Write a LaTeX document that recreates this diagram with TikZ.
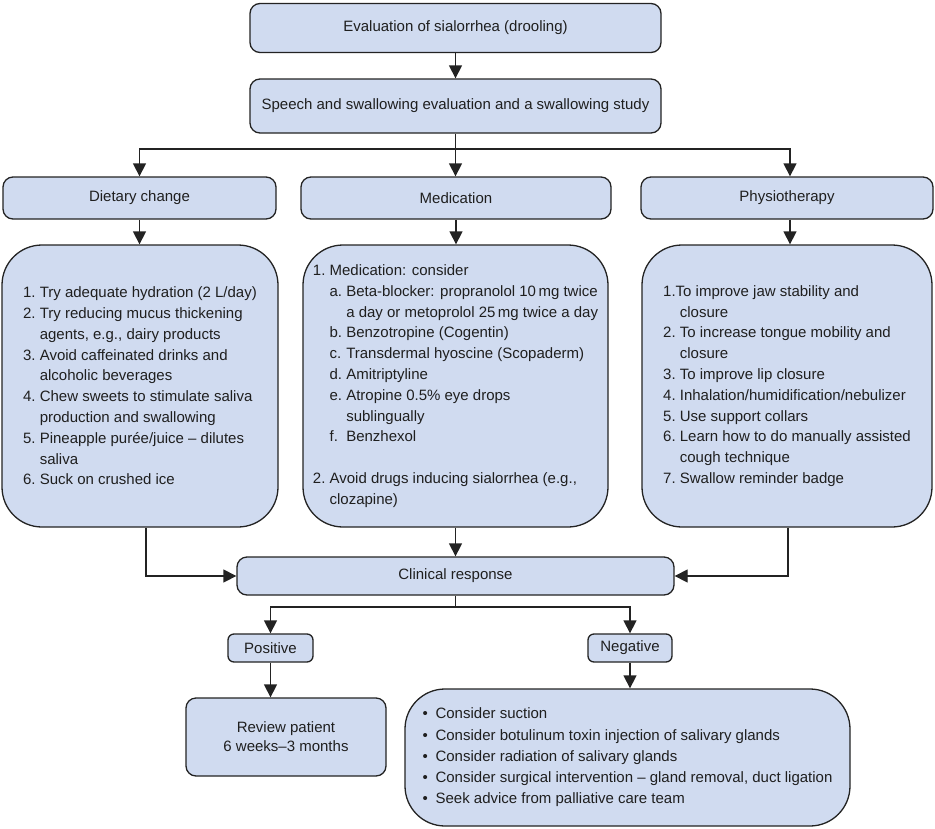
\documentclass[tikz,border=0pt]{standalone}
\usepackage{fontspec}
\setmainfont{Liberation Sans}
\usetikzlibrary{arrows.meta}
\definecolor{boxfill}{RGB}{208,219,240}
\definecolor{linec}{RGB}{35,35,35}
\newcommand{\nm}[1]{\makebox[1.11em][l]{#1}}
\newcommand{\bl}{\makebox[0.87em][l]{\textbullet}}
\begin{document}
\begin{tikzpicture}[x=1pt,y=-1pt,
  box/.style={draw=linec, fill=boxfill, line width=1.3pt, rounded corners=10pt, inner sep=0pt,
    font=\fontsize{15}{20.8}\selectfont, text=black!88},
  bigbox/.style={box, rounded corners=40pt, align=left},
  ln/.style={draw=linec, line width=1.3pt},
  arr/.style={ln, -{Triangle[length=13pt,width=13pt]}}]
\useasboundingbox (0,0) rectangle (935,828);

\node[box, minimum width=411pt, minimum height=49pt] (eval) at (455.5,28) {Evaluation of sialorrhea (drooling)};
\node[box, minimum width=411pt, minimum height=54pt] (speech) at (455.5,106) {Speech and swallowing evaluation and a swallowing study};

\node[box, minimum width=273pt, minimum height=42pt] (diet) at (139.5,198) {Dietary change};
\node[box, minimum width=310pt, minimum height=42pt] (med) at (456,198) {Medication};
\node[box, minimum width=292pt, minimum height=42pt] (physio) at (787,198) {Physiotherapy};

\node[bigbox, minimum width=276pt, minimum height=282pt] (dietbox) at (140,386) {%
\nm{1.}Try adequate hydration (2 L/day)\\
\nm{2.}Try reducing mucus thickening\\
\nm{}agents, e.g., dairy products\\
\nm{3.}Avoid caffeinated drinks and\\
\nm{}alcoholic beverages\\
\nm{4.}Chew sweets to stimulate saliva\\
\nm{}production and swallowing\\
\nm{5.}Pineapple purée/juice – dilutes\\
\nm{}saliva\\
\nm{6.}Suck on crushed ice};

\node[bigbox, minimum width=305pt, minimum height=282pt] (medbox) at (455.5,386) {%
\nm{1.}Medication: consider\\
\nm{}\nm{a.}Beta-blocker: propranolol 10\,mg twice\\
\nm{}\nm{}a day or metoprolol 25\,mg twice a day\\
\nm{}\nm{b.}Benzotropine (Cogentin)\\
\nm{}\nm{c.}Transdermal hyoscine (Scopaderm)\\
\nm{}\nm{d.}Amitriptyline\\
\nm{}\nm{e.}Atropine 0.5\% eye drops\\
\nm{}\nm{}sublingually\\
\nm{}\nm{f.}Benzhexol\\[20.8pt]
\nm{2.}Avoid drugs inducing sialorrhea (e.g.,\\
\nm{}clozapine)};

\node[bigbox, minimum width=290pt, minimum height=282pt] (physbox) at (787,386) {%
1.To improve jaw stability and\\
\nm{}closure\\
\nm{2.}To increase tongue mobility and\\
\nm{}closure\\
\nm{3.}To improve lip closure\\
\nm{4.}Inhalation/humidification/nebulizer\\
\nm{5.}Use support collars\\
\nm{6.}Learn how to do manually assisted\\
\nm{}cough technique\\
\nm{7.}Swallow reminder badge};

\node[box, minimum width=437pt, minimum height=38pt] (clinical) at (455.5,576) {Clinical response};
\node[box, rounded corners=6pt, minimum width=85pt, minimum height=28pt] (positive) at (270.5,648) {Positive};
\node[box, rounded corners=6pt, minimum width=84pt, minimum height=28pt] (negative) at (630,648) {Negative};

\node[box, align=center, minimum width=200pt, minimum height=78pt,
  font=\fontsize{15}{19}\selectfont] (review) at (286,737) {Review patient\\6 weeks–3 months};

\node[bigbox, minimum width=445pt, minimum height=137pt,
  font=\fontsize{15}{21.2}\selectfont] (negbox) at (627.5,757.5) {%
\bl Consider suction\\
\bl Consider botulinum toxin injection of salivary glands\\
\bl Consider radiation of salivary glands\\
\bl Consider surgical intervention – gland removal, duct ligation\\
\bl Seek advice from palliative care team};

% connectors
\coordinate (br) at (455.5,149);
\coordinate (cb) at (455.5,607);
\draw[arr] (eval) -- (speech);
\draw[arr] (speech.south) -- (speech.south |- med.north);
\draw[arr] (br) -| (diet.north);
\draw[arr] (br) -| ([xshift=3pt]physio.north);
\draw[arr] (diet.south) -- (diet.south |- dietbox.north);
\draw[arr] (med.south) -- (med.south |- medbox.north);
\draw[arr] ([xshift=3pt]physio.south) -- ([xshift=3pt]physio.south |- physbox.north);
\draw[arr] ([xshift=6pt]dietbox.south) |- (clinical.west);
\draw[arr] ([xshift=1pt]physbox.south) |- (clinical.east);
\draw[arr] (medbox.south) -- (clinical.north);
\draw[ln] (clinical.south) -- (cb);
\draw[arr] (cb) -| (positive.north);
\draw[arr] (cb) -| (negative.north);
\draw[arr] (positive.south) -- (positive.south |- review.north);
\draw[arr] (negative.south) -- (negative.south |- negbox.north);
\end{tikzpicture}
\end{document}
